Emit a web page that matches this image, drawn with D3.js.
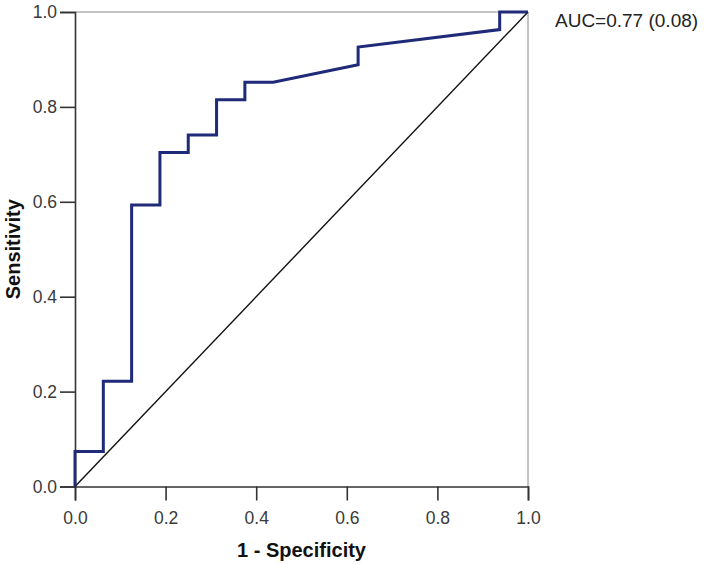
<!DOCTYPE html>
<html>
<head>
<meta charset="utf-8">
<script src="https://cdn.jsdelivr.net/npm/d3@7"></script>
<style>
  body { margin: 0; background: #fff; }
  text { font-family: "Liberation Sans", Arial, sans-serif; }
</style>
</head>
<body>
<div id="chart"></div>
<script>
// ROC curve points (1 - specificity, sensitivity)
var fpr = [0, 0, 0.0625, 0.0625, 0.125, 0.125, 0.1875, 0.1875, 0.25, 0.25, 0.3125, 0.3125, 0.375, 0.375, 0.4375, 0.625, 0.625, 0.9375, 0.9375, 1];
var tpr = [0, 0.074, 0.074, 0.222, 0.222, 0.593, 0.593, 0.704, 0.704, 0.741, 0.741, 0.815, 0.815, 0.852, 0.852, 0.889, 0.926, 0.963, 1, 1];
var refLine = [[0, 0], [1, 1]];
var tickValues = [0, 0.2, 0.4, 0.6, 0.8, 1.0];
var aucLabel = 'AUC=0.77 (0.08)';

var width = 704, height = 564;
var plotLeft = 75, plotRight = 528, plotTop = 12, plotBottom = 486.5;

var x = d3.scaleLinear().domain([0, 1]).range([plotLeft, plotRight]);
var y = d3.scaleLinear().domain([0, 1]).range([plotBottom, plotTop]);

var svg = d3.select('#chart').append('svg')
            .attr('width', width)
            .attr('height', height);

// light frame on top and right
svg.append('line')
   .attr('x1', x(0)).attr('x2', x(1))
   .attr('y1', y(1)).attr('y2', y(1))
   .attr('stroke', '#8a8a8a').attr('stroke-width', 1);
svg.append('line')
   .attr('x1', x(1)).attr('x2', x(1))
   .attr('y1', y(1)).attr('y2', y(0))
   .attr('stroke', '#8a8a8a').attr('stroke-width', 1);

var xAxis = svg.append('g')
   .attr('transform', 'translate(0,' + plotBottom + ')')
   .call(d3.axisBottom(x).tickValues(tickValues).tickSize(14).tickPadding(11).tickFormat(d3.format('.1f')));
var yAxis = svg.append('g')
   .attr('transform', 'translate(' + plotLeft + ',0)')
   .call(d3.axisLeft(y).tickValues(tickValues).tickSize(15).tickPadding(3).tickFormat(d3.format('.1f')));

[xAxis, yAxis].forEach(function(g){
  g.attr('font-size', null).attr('font-family', null);
  g.select('.domain').attr('stroke', '#333').attr('stroke-width', 1.6);
  g.selectAll('.tick line').attr('stroke', '#333').attr('stroke-width', 1.6);
  g.selectAll('.tick text')
   .attr('fill', '#3a3a3a')
   .style('font-size', '17.5px');
});

// reference diagonal
svg.append('path')
   .datum(refLine)
   .attr('d', d3.line().x(function(d){return x(d[0])}).y(function(d){return y(d[1])}))
   .attr('fill', 'none')
   .attr('stroke', '#111')
   .attr('stroke-width', 1.4);

// ROC curve
var roc = fpr.map(function(v, i){ return [v, tpr[i]]; });
svg.append('path')
   .datum(roc)
   .attr('d', d3.line().x(function(d){return x(d[0])}).y(function(d){return y(d[1])}))
   .attr('fill', 'none')
   .attr('stroke', '#1f2a78')
   .attr('stroke-width', 3)
   .attr('stroke-linejoin', 'miter');

// axis titles
svg.append('text')
   .attr('x', (plotLeft + plotRight) / 2)
   .attr('y', 557)
   .attr('text-anchor', 'middle')
   .style('font-size', '20px')
   .style('font-weight', 'bold')
   .attr('fill', '#111')
   .text('1 - Specificity');

svg.append('text')
   .attr('transform', 'translate(20,' + (plotTop + plotBottom) / 2 + ') rotate(-90)')
   .attr('text-anchor', 'middle')
   .style('font-size', '20px')
   .style('font-weight', 'bold')
   .attr('fill', '#111')
   .text('Sensitivity');

svg.append('text')
   .attr('x', 555)
   .attr('y', 26.5)
   .style('font-size', '19px')
   .attr('fill', '#222')
   .text(aucLabel);
</script>
</body>
</html>
